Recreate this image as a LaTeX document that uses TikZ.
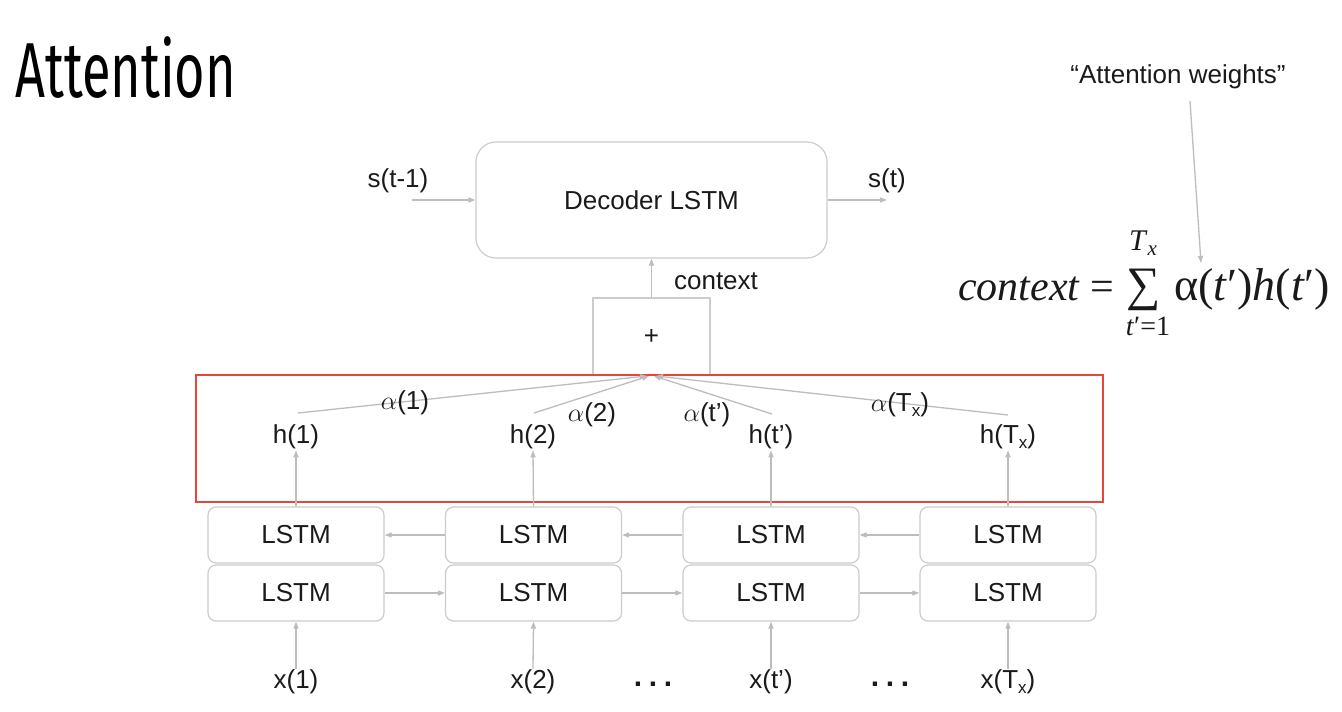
\RequirePackage{fix-cm}
\documentclass[tikz,border=0pt]{standalone}
\usepackage{fontspec}
\setmainfont{Liberation Sans}
\newfontfamily\tms{Liberation Serif}
\newfontfamily\titlefont[FakeStretch=0.67]{Fira Sans}
\usetikzlibrary{arrows.meta}
\definecolor{linec}{HTML}{BDBDBD}
\definecolor{boxc}{HTML}{CCCCCC}
\definecolor{redc}{HTML}{E8453C}
\definecolor{txt}{HTML}{1A1A1A}
\tikzset{
  lbl/.style={font=\fontsize{26}{30}\selectfont, text=txt, inner sep=1pt},
  lstm/.style={draw=boxc, line width=1.2pt, rounded corners=8pt, minimum width=176pt, minimum height=56pt, lbl},
  arr/.style={draw=linec, line width=1.3pt, -{Triangle[length=7pt,width=5pt]}},
  fml/.style={font=\tms\fontsize{42}{50}\selectfont, text=txt, inner sep=0pt},
  dots/.style={font=\bfseries\fontsize{30}{32}\selectfont, text=txt, inner sep=0pt},
}
\newcommand{\sbx}{\raisebox{-0.35ex}{\fontsize{17}{17}\selectfont x}}
\newcommand{\alp}{$\alpha$}
\newcommand{\mydots}{.\hspace{0.22em}.\hspace{0.22em}.}
\begin{document}
\begin{tikzpicture}[x=1pt,y=-1pt]
\useasboundingbox[fill=white] (0,0) rectangle (1342,712);

% title
\node[anchor=base west, font=\titlefont\fontsize{78}{90}\selectfont, text=black, inner sep=0pt] (title) at (15,97) {Attention};

% decoder
\node[draw=boxc, line width=1.2pt, rounded corners=20pt, minimum width=351pt, minimum height=116pt, lbl] (dec) at (651.5,200) {Decoder LSTM};
\node[lbl] (sin) at (398,181) {s(t-1)};
\node[lbl] (sout) at (887,181) {s(t)};
\coordinate (sinp) at (412,200);
\coordinate (soutp) at (887,200);
\draw[arr] (sinp) -- (dec.west);
\draw[arr] (dec.east) -- (soutp);

% plus box
\node[draw=boxc, line width=1.2pt, minimum width=117pt, minimum height=77pt, lbl] (plus) at (651.5,336.5) {+};
\draw[arr] (plus.north) -- (dec.south);
\node[lbl] (ctxl) at (716,281) {context};

% red box
\node[draw=redc, line width=1.6pt, minimum width=907pt, minimum height=127pt, inner sep=0pt] (att) at (649.5,438.5) {};

% h labels
\node[lbl] (h1) at (296,437) {h(1)};
\node[lbl] (h2) at (533,437) {h(2)};
\node[lbl] (h3) at (771,437) {h(t')};
\node[lbl] (h4) at (1008,437) {h(T\sbx)};

% attention lines
\coordinate (a1) at (298,413);
\coordinate (a2) at (534,413);
\coordinate (a3) at (772,414);
\coordinate (a4) at (1008,415);
\coordinate (c1) at (647,376);
\coordinate (c2) at (649,376);
\coordinate (c3) at (654,376);
\coordinate (c4) at (656,376);
\draw[arr] (a1) -- (c1);
\draw[arr] (a2) -- (c2);
\draw[arr] (a3) -- (c3);
\draw[arr] (a4) -- (c4);
\node[lbl] (al1) at (405,403) {\alp(1)};
\node[lbl] (al2) at (592,415) {\alp(2)};
\node[lbl] (al3) at (707,415) {\alp(t')};
\node[lbl] (al4) at (900,405) {\alp(T\sbx)};

% LSTM boxes
\node[lstm] (t1) at (296,535) {LSTM};
\node[lstm] (t2) at (533.5,535) {LSTM};
\node[lstm] (t3) at (771,535) {LSTM};
\node[lstm] (t4) at (1008,535) {LSTM};
\node[lstm] (b1) at (296,593) {LSTM};
\node[lstm] (b2) at (533.5,593) {LSTM};
\node[lstm] (b3) at (771,593) {LSTM};
\node[lstm] (b4) at (1008,593) {LSTM};

\draw[arr] (t2.west) -- (t1.east);
\draw[arr] (t3.west) -- (t2.east);
\draw[arr] (t4.west) -- (t3.east);
\draw[arr] (b1.east) -- (b2.west);
\draw[arr] (b2.east) -- (b3.west);
\draw[arr] (b3.east) -- (b4.west);

\draw[arr] (t1.north) -- (h1.south);
\draw[arr] (t2.north) -- (h2.south);
\draw[arr] (t3.north) -- (h3.south);
\draw[arr] (t4.north) -- (h4.south);

% inputs
\node[lbl] (x1) at (296,682) {x(1)};
\node[lbl] (x2) at (533,682) {x(2)};
\node[lbl] (x3) at (771,682) {x(t')};
\node[lbl] (x4) at (1008,682) {x(T\sbx)};
\node[dots] (d1) at (653,684) {\mydots};
\node[dots] (d2) at (890,684) {\mydots};
\draw[arr] (x1.north) -- (b1.south);
\draw[arr] (x2.north) -- (b2.south);
\draw[arr] (x3.north) -- (b3.south);
\draw[arr] (x4.north) -- (b4.south);

% formula
\node[lbl] (aw) at (1178,77) {“Attention weights”};
\coordinate (awp) at (1190,101);
\coordinate (awq) at (1201,263);
\draw[arr] (awp) -- (awq);
\node[fml, anchor=base west] (ctx) at (958,300) {\textit{context} =};
\node[fml, anchor=center, font=\tms\fontsize{48}{50}\selectfont] (sig) at (1144,290) {∑};
\node[fml, anchor=center, font=\tms\fontsize{30}{34}\selectfont] (up) at (1143,243) {\textit{T}\raisebox{-0.35ex}{\fontsize{21}{21}\selectfont\textit{x}}};
\node[fml, anchor=center, font=\tms\fontsize{28}{32}\selectfont] (lo) at (1148,326) {\textit{t}′=1};
\node[fml, anchor=base west, font=\tms\fontsize{46}{50}\selectfont] (rhs) at (1174,300) {α(\textit{t}′)\textit{h}(\textit{t}′)};
\end{tikzpicture}
\end{document}
